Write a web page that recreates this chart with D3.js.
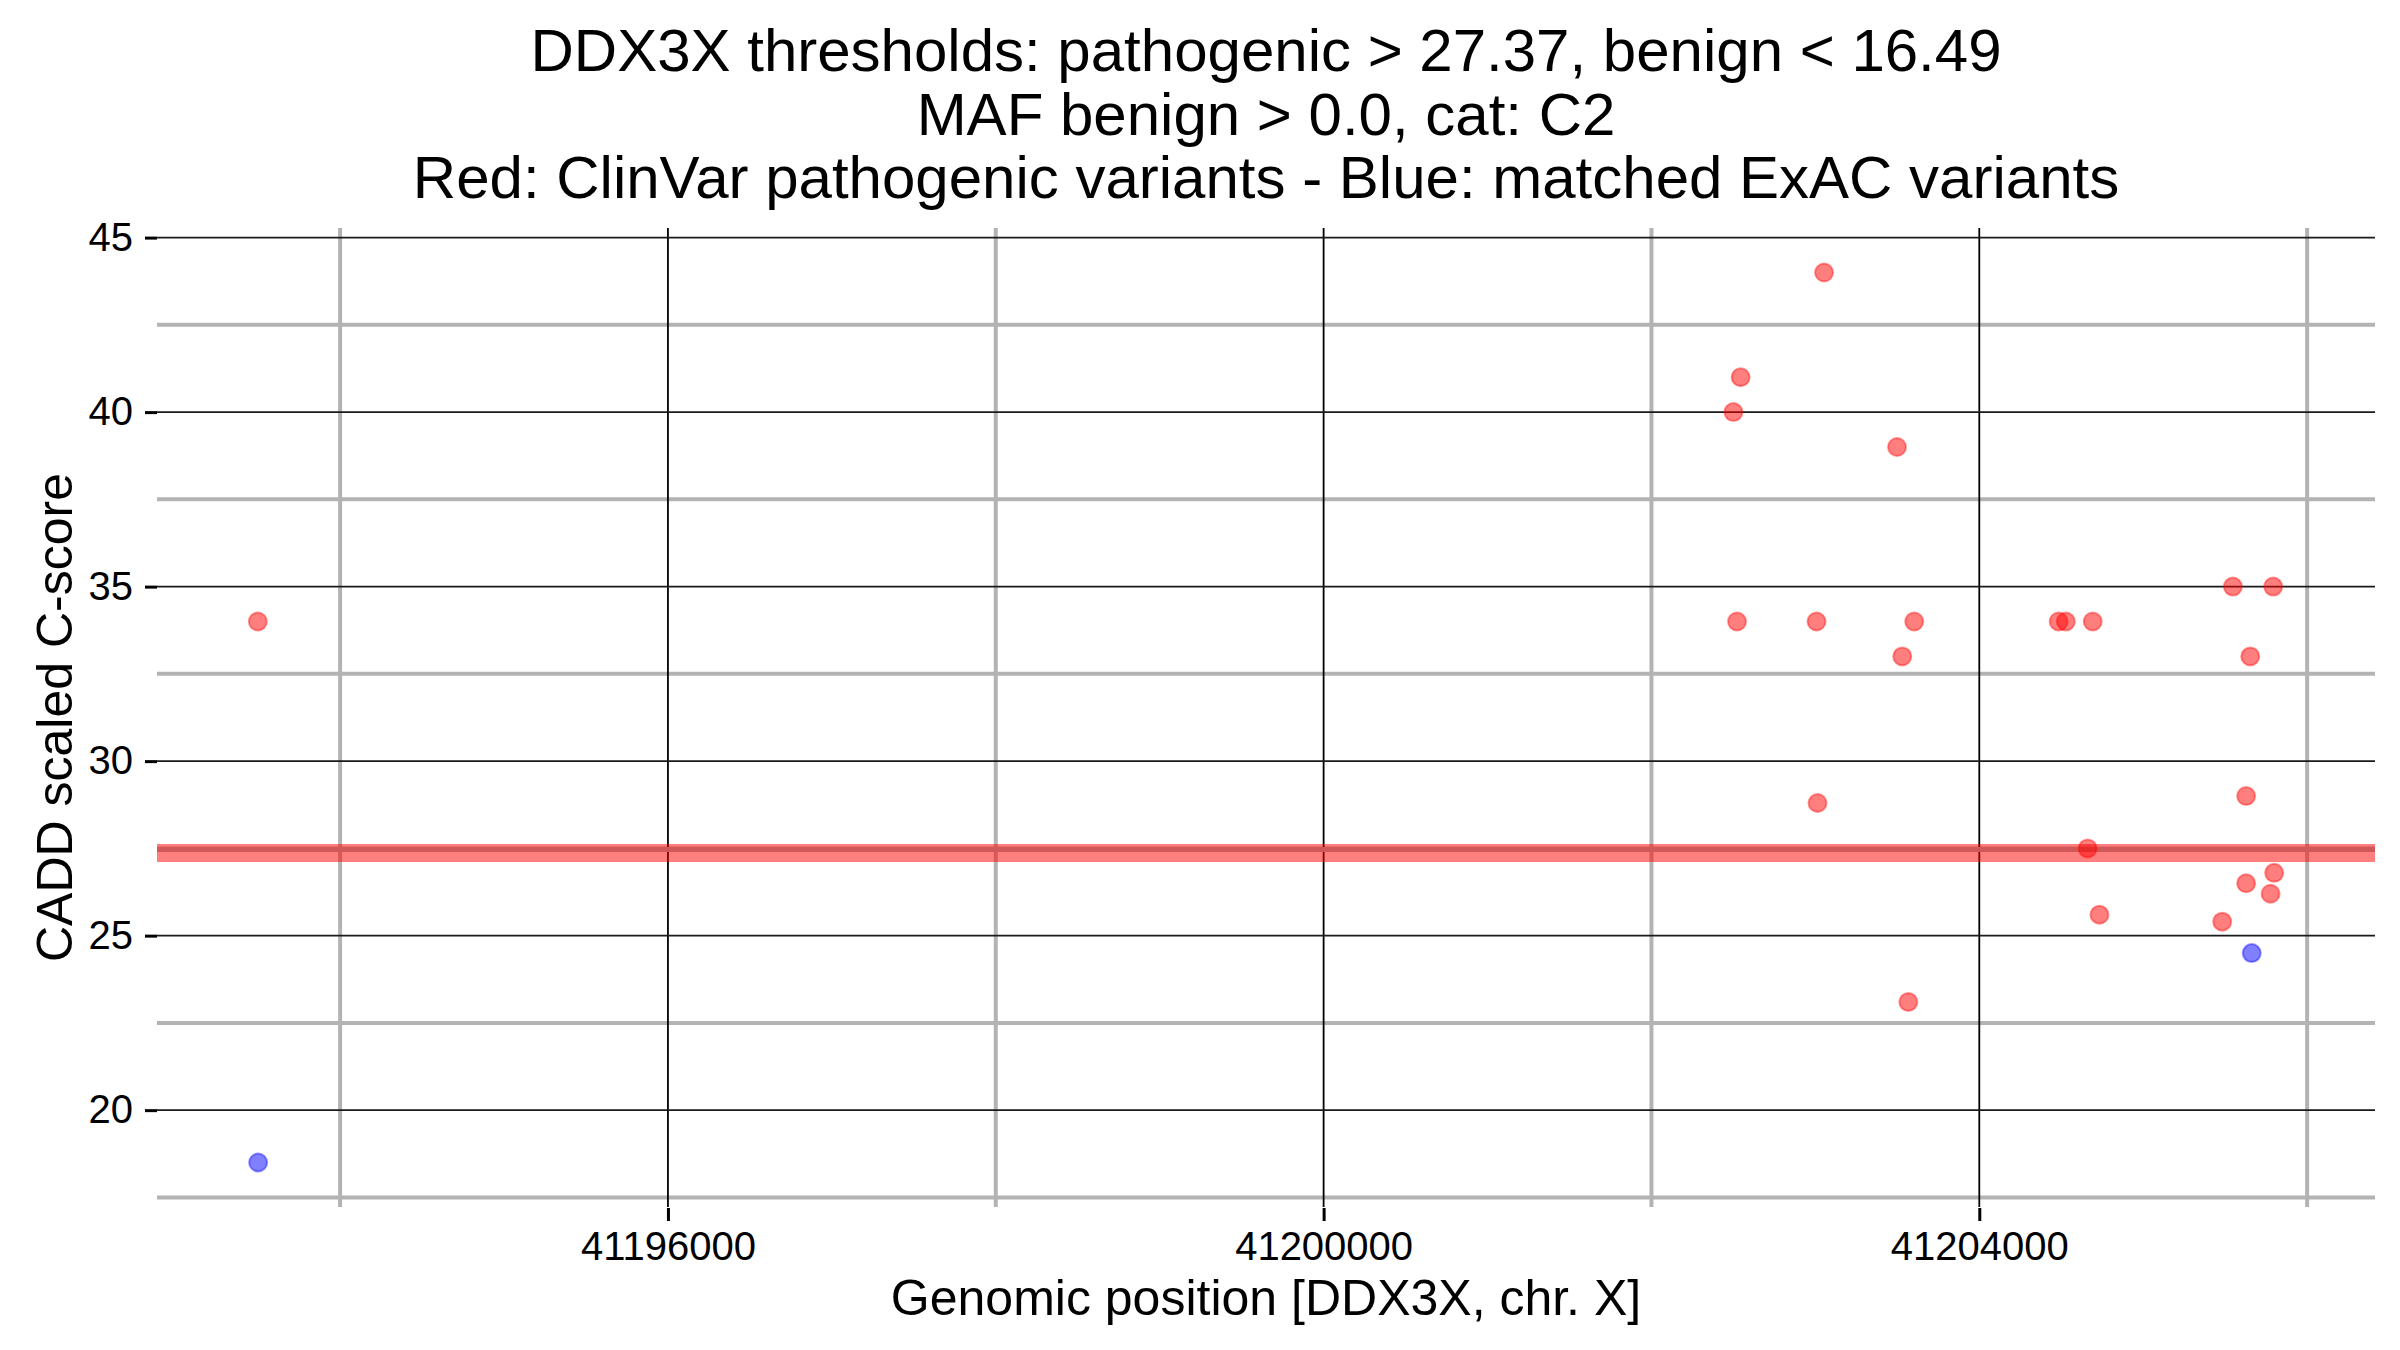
<!DOCTYPE html>
<html>
<head>
<meta charset="utf-8">
<script src="https://cdn.jsdelivr.net/npm/d3@7"></script>
<style>
  body { margin: 0; background: #fff; }
  text { font-family: "Liberation Sans", Arial, Helvetica, sans-serif; }
</style>
</head>
<body>
<div id="chart"></div>
<script>
// data
const redPos = [41193498, 41202500, 41202544, 41203053, 41203498, 41202522, 41203007, 41203603,
                41203530, 41204484, 41204528, 41204692, 41205547, 41205793, 41205653, 41203013,
                41205628, 41204661, 41205799, 41205628, 41205777, 41204733, 41205482, 41203567];
const redScore = [34, 40, 41, 44, 39, 34, 34, 34,
                  33, 34, 34, 34, 35, 35, 33, 28.8,
                  29, 27.5, 26.8, 26.5, 26.2, 25.6, 25.4, 23.1];
const bluePos = [41193500, 41205662];
const blueScore = [18.5, 24.5];

const pathoThreshold = 27.37;
const xMajor = [41196000, 41200000, 41204000];
const xMinor = [41194000, 41198000, 41202000, 41206000];
const yMajor = [20, 25, 30, 35, 40, 45];
const yMinor = [17.5, 22.5, 27.5, 32.5, 37.5, 42.5];

const titleLines = ["DDX3X thresholds: pathogenic > 27.37, benign < 16.49",
                    "MAF benign > 0.0, cat: C2",
                    "Red: ClinVar pathogenic variants - Blue: matched ExAC variants"];

const W = 2400, H = 1350;
const panel = {left: 157, right: 2375, top: 228, bottom: 1207};

const svg = d3.select("#chart")
    .append("svg")
    .attr("width", W)
    .attr("height", H);

svg.append("rect").attr("width", W).attr("height", H).attr("fill", "#fff");

// ggplot-like 5% expansion
const allPos = redPos.concat(bluePos), allScore = redScore.concat(blueScore);
const xe = d3.extent(allPos), ye = d3.extent(allScore);
const xPad = (xe[1] - xe[0]) * 0.05, yPad = (ye[1] - ye[0]) * 0.05;

const x = d3.scaleLinear()
    .domain([xe[0] - xPad, xe[1] + xPad])
    .range([panel.left, panel.right]);
const y = d3.scaleLinear()
    .domain([ye[0] - yPad, ye[1] + yPad])
    .range([panel.bottom, panel.top]);

// grid: minor grey first, then major black
const grid = svg.append("g");
grid.selectAll(".vmin").data(xMinor).join("line")
    .attr("x1", d => x(d)).attr("x2", d => x(d))
    .attr("y1", panel.top).attr("y2", panel.bottom)
    .attr("stroke", "#b3b3b3").attr("stroke-width", 4);
grid.selectAll(".hmin").data(yMinor).join("line")
    .attr("x1", panel.left).attr("x2", panel.right)
    .attr("y1", d => y(d)).attr("y2", d => y(d))
    .attr("stroke", "#b3b3b3").attr("stroke-width", 4);
grid.selectAll(".vmaj").data(xMajor).join("line")
    .attr("x1", d => x(d)).attr("x2", d => x(d))
    .attr("y1", panel.top).attr("y2", panel.bottom)
    .attr("stroke", "#000").attr("stroke-width", 1.8);
grid.selectAll(".hmaj").data(yMajor).join("line")
    .attr("x1", panel.left).attr("x2", panel.right)
    .attr("y1", d => y(d)).attr("y2", d => y(d))
    .attr("stroke", "#1a1a1a").attr("stroke-width", 1.8);

// threshold line
svg.append("line")
    .attr("x1", panel.left).attr("x2", panel.right)
    .attr("y1", y(pathoThreshold)).attr("y2", y(pathoThreshold))
    .attr("stroke", "red").attr("stroke-opacity", 0.5).attr("stroke-width", 18);
svg.append("line")
    .attr("x1", panel.left).attr("x2", panel.right)
    .attr("y1", y(27.47)).attr("y2", y(27.47))
    .attr("stroke", "#d05858").attr("stroke-width", 5);

// points
function dots(pos, score, col) {
    svg.append("g")
        .selectAll("circle")
        .data(pos.map((p, i) => ({p: p, s: score[i]})))
        .join("circle")
        .attr("cx", d => x(d.p))
        .attr("cy", d => y(d.s))
        .attr("r", 9)
        .attr("fill", col).attr("fill-opacity", 0.5)
        .attr("stroke", col).attr("stroke-opacity", 0.4).attr("stroke-width", 2);
}
dots(redPos, redScore, "red");
dots(bluePos, blueScore, "blue");

// axes
const yAxis = svg.append("g")
    .attr("transform", `translate(${panel.left}, 0)`)
    .call(d3.axisLeft(y).tickValues(yMajor).tickSize(12).tickPadding(12));
const xAxis = svg.append("g")
    .attr("transform", `translate(0, ${panel.bottom + 1})`)
    .call(d3.axisBottom(x).tickValues(xMajor).tickFormat(d3.format("d")).tickSize(13).tickPadding(11));
[xAxis, yAxis].forEach(a => {
    a.select(".domain").remove();
    a.selectAll(".tick line").attr("stroke", "#000").attr("stroke-width", 3);
    a.selectAll("text")
        .attr("fill", "#000")
        .style("font-size", "40px")
        .style("font-family", '"Liberation Sans", Arial, Helvetica, sans-serif');
});

// labels
svg.append("text")
    .attr("text-anchor", "middle")
    .attr("x", (panel.left + panel.right) / 2)
    .attr("y", 1315)
    .style("font-size", "50px")
    .text("Genomic position [DDX3X, chr. X]");

svg.append("text")
    .attr("text-anchor", "middle")
    .attr("transform", `translate(72, ${(panel.top + panel.bottom) / 2}) rotate(-90)`)
    .style("font-size", "50px")
    .text("CADD scaled C-score");

const titleY = [71, 135, 198];
svg.append("g").selectAll("text")
    .data(titleLines)
    .join("text")
    .attr("text-anchor", "middle")
    .attr("x", (panel.left + panel.right) / 2)
    .attr("y", (d, i) => titleY[i])
    .style("font-size", "60px")
    .text(d => d);
</script>
</body>
</html>
